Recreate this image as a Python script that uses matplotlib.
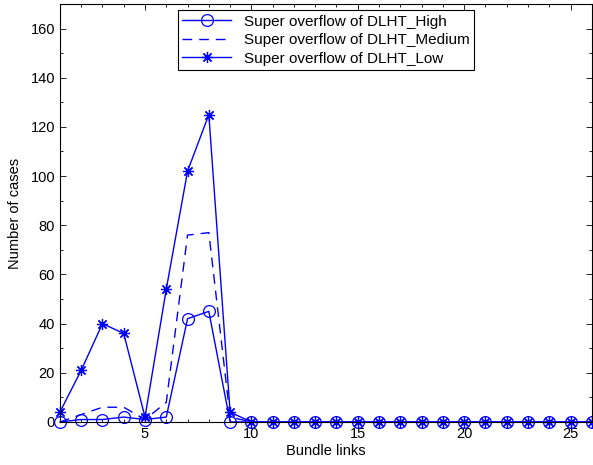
import numpy as np
import matplotlib.pyplot as plt
from matplotlib.ticker import MultipleLocator

plt.rcParams['font.family'] = ['Liberation Sans', 'DejaVu Sans']

links = list(range(1, 27))
dlht_high = [0, 1, 1, 2, 1, 2, 42, 45, 0] + [0] * 17
dlht_medium = [0, 3, 6, 6, 1, 8, 76, 77, 2] + [0] * 17
dlht_low = [4, 21, 40, 36, 2, 54, 102, 125, 4] + [0] * 17

fig = plt.figure(figsize=(5.93, 4.65), dpi=100)
ax = fig.add_axes([0.101, 0.0925, 0.897, 0.899])

blue = '#0000ff'
asterisk = (8, 2, 0)
ax.plot(links, dlht_high, color=blue, lw=1.0, marker='o', ms=8.5,
        mfc='none', mew=0.9, clip_on=False, label='Super overflow of DLHT_High')
ax.plot(links, dlht_medium, color=blue, lw=1.0, ls=(0, (7, 5)),
        label='Super overflow of DLHT_Medium')
ax.plot(links, dlht_low, color=blue, lw=1.0, marker=asterisk, ms=8,
        mew=0.9, clip_on=False, label='Super overflow of DLHT_Low')

ax.set_xlim(1, 26)
ax.set_ylim(0, 170)
ax.set_xticks([5, 10, 15, 20, 25])
ax.set_yticks(range(0, 170, 20))
ax.xaxis.set_minor_locator(MultipleLocator(1))
ax.yaxis.set_minor_locator(MultipleLocator(10))
ax.tick_params(which='both', direction='in', top=True, right=True,
               labelsize=10.5, width=0.6)
ax.tick_params(which='major', length=4)
ax.tick_params(which='minor', length=2)
for s in ax.spines.values():
    s.set_linewidth(0.8)

ax.set_xlabel('Bundle links', fontsize=10.5, labelpad=2)
ax.set_ylabel('Number of cases', fontsize=10.5, labelpad=6)

leg = ax.legend(loc='upper center', fontsize=11, fancybox=False,
                framealpha=1, edgecolor='black', borderaxespad=0.4,
                handlelength=3.2, labelspacing=0.3, borderpad=0.3)
leg.get_frame().set_linewidth(0.8)

fig.savefig('out.png', dpi=100)
